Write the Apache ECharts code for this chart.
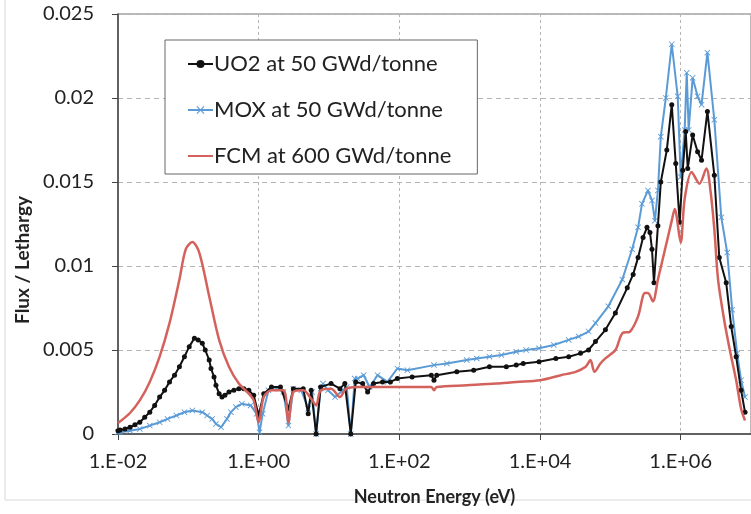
<!DOCTYPE html>
<html>
<head>
<meta charset="utf-8">
<script src="https://cdn.jsdelivr.net/npm/echarts@6/dist/echarts.min.js"></script>
<style>
  html, body { margin: 0; padding: 0; background: #fff; }
  #chart { width: 751px; height: 514px; }
</style>
</head>
<body>
<div id="chart"></div>
<script>
// Neutron energy (eV) and flux per lethargy
const uo2E = [0.01, 0.0107, 0.0126, 0.0148, 0.0174, 0.0204, 0.024, 0.0283, 0.0332, 0.0391, 0.046, 0.054, 0.0636, 0.0747, 0.088, 0.103, 0.122, 0.138, 0.158, 0.174, 0.198, 0.21, 0.232, 0.247, 0.274, 0.301, 0.331, 0.378, 0.444, 0.523, 0.615, 0.724, 0.85, 1.0, 1.18, 1.52, 2.04, 2.65, 3.11, 4.3, 5.06, 5.58, 6.56, 7.6, 10.7, 14.3, 16.8, 20.4, 24.0, 30.1, 35.4, 43.0, 57.7, 74.7, 93.7, 152, 285, 311, 340, 656, 1140, 1910, 3320, 4590, 5770, 9680, 16800, 25600, 37700, 49000, 61500, 85100, 118000, 174000, 211000, 248000, 292000, 332000, 366000, 391000, 417000, 475000, 522000, 635000, 747000, 851000, 968000, 1.07e6, 1.18e6, 1.26e6, 1.48e6, 1.74e6, 1.98e6, 2.4e6, 3.01e6, 3.54e6, 4.44e6, 5.23e6, 6.15e6, 7.23e6, 8.22e6];
const uo2Flux = [0.0002, 0.00024, 0.0003, 0.0004, 0.00055, 0.0007, 0.001, 0.0013, 0.0017, 0.0022, 0.0026, 0.0031, 0.0035, 0.004, 0.0046, 0.0052, 0.0057, 0.0056, 0.0054, 0.005, 0.0044, 0.0039, 0.0034, 0.0029, 0.0024, 0.0022, 0.0023, 0.0025, 0.0026, 0.0027, 0.0027, 0.0026, 0.0023, 0.0011, 0.0024, 0.0028, 0.0028, 0.0015, 0.0027, 0.0027, 0.0012, 0.0026, 0.0, 0.0028, 0.003, 0.0027, 0.003, 0.0, 0.0031, 0.003, 0.0025, 0.003, 0.0031, 0.0031, 0.0033, 0.0034, 0.0035, 0.0032, 0.0035, 0.0037, 0.0038, 0.004, 0.004, 0.0041, 0.0042, 0.0043, 0.0045, 0.0046, 0.0048, 0.005, 0.0055, 0.0062, 0.0072, 0.0087, 0.0095, 0.0105, 0.0117, 0.0123, 0.012, 0.011, 0.009, 0.0124, 0.015, 0.0169, 0.0196, 0.0161, 0.0126, 0.0157, 0.018, 0.0158, 0.0178, 0.0168, 0.0163, 0.0192, 0.0154, 0.0105, 0.009, 0.0064, 0.0046, 0.0026, 0.0013];

const moxE = [0.01, 0.0107, 0.0148, 0.0204, 0.0283, 0.0391, 0.0506, 0.0678, 0.088, 0.114, 0.158, 0.185, 0.218, 0.247, 0.292, 0.354, 0.403, 0.474, 0.576, 0.771, 0.937, 1.03, 1.14, 1.38, 1.91, 2.25, 2.65, 3.11, 4.04, 5.06, 5.77, 6.56, 7.6, 8.23, 9.68, 12.2, 15.8, 17.9, 20.4, 23.2, 25.6, 31.1, 37.8, 49.0, 67.8, 93.7, 130, 311, 474, 908, 1260, 1910, 2830, 4590, 6350, 9680, 15700, 25600, 35400, 49000, 61500, 93700, 148000, 204000, 248000, 282000, 343000, 391000, 430000, 475000, 522000, 615000, 747000, 908000, 1.0e6, 1.14e6, 1.22e6, 1.3e6, 1.48e6, 1.74e6, 1.98e6, 2.4e6, 3.01e6, 3.78e6, 4.59e6, 5.4e6, 6.35e6, 7.23e6, 8.22e6];
const moxFlux = [0.0001, 0.0001, 0.0002, 0.0003, 0.0005, 0.0007, 0.0009, 0.0011, 0.0013, 0.0014, 0.0013, 0.0011, 0.0009, 0.0006, 0.0004, 0.0009, 0.0013, 0.0016, 0.0018, 0.0017, 0.0012, 0.0001, 0.0012, 0.0026, 0.0027, 0.0025, 0.0005, 0.0027, 0.0026, 0.0015, 0.0025, 0.0, 0.0027, 0.003, 0.0026, 0.0022, 0.0026, 0.0028, 0.0, 0.0033, 0.0033, 0.0035, 0.0028, 0.0035, 0.0031, 0.0039, 0.0038, 0.0041, 0.0042, 0.0044, 0.0045, 0.0046, 0.0047, 0.0049, 0.005, 0.0051, 0.0053, 0.0056, 0.0058, 0.0061, 0.0066, 0.0076, 0.0092, 0.011, 0.0123, 0.0137, 0.0145, 0.0139, 0.0127, 0.0145, 0.0177, 0.02, 0.0232, 0.0201, 0.0153, 0.0181, 0.0215, 0.0181, 0.0212, 0.0201, 0.0196, 0.0227, 0.0187, 0.0129, 0.0108, 0.0074, 0.0048, 0.0032, 0.0022];

const fcmE = [0.01, 0.0148, 0.0204, 0.0283, 0.0391, 0.054, 0.0747, 0.092, 0.114, 0.143, 0.198, 0.274, 0.378, 0.523, 0.724, 0.85, 1.0, 1.18, 1.52, 2.25, 2.65, 3.11, 4.3, 5.58, 6.56, 7.6, 10.7, 14.3, 17.5, 25.6, 49.0, 93.7, 285, 311, 340, 908, 2400, 4590, 10000, 19800, 32100, 44500, 52200, 59500, 72300, 85100, 118000, 148000, 191000, 248000, 310000, 343000, 403000, 475000, 600000, 747000, 823000, 1.0e6, 1.14e6, 1.43e6, 1.85e6, 2.32e6, 2.65e6, 3.01e6, 3.4e6, 4.15e6, 5.0e6, 6.15e6, 7.23e6, 8.22e6];
const fcmFlux = [0.00065, 0.00125, 0.002, 0.0031, 0.0046, 0.0066, 0.0092, 0.011, 0.01143, 0.0108, 0.0082, 0.0056, 0.004, 0.003, 0.0024, 0.002, 0.0007, 0.0022, 0.0026, 0.0026, 0.0007, 0.0025, 0.0026, 0.0021, 0.0017, 0.0026, 0.0027, 0.0022, 0.0027, 0.0028, 0.0028, 0.0028, 0.0028, 0.0026, 0.0028, 0.0029, 0.003, 0.0031, 0.0032, 0.0035, 0.0037, 0.004, 0.0044, 0.0037, 0.0042, 0.0045, 0.005, 0.006, 0.0061, 0.007, 0.0084, 0.0084, 0.0079, 0.0092, 0.011, 0.0127, 0.0134, 0.0114, 0.014, 0.0156, 0.0149, 0.0158, 0.0145, 0.0122, 0.0092, 0.0068, 0.005, 0.0032, 0.0015, 0.0008];

const seriesNames = ["UO2 at 50 GWd/tonne", "MOX at 50 GWd/tonne", "FCM at 600 GWd/tonne"];
const yTicks = [0, 0.005, 0.01, 0.015, 0.02, 0.025];

const BLUE = "#5b9bd5";
const RED  = "#d4625c";
const FONT = "Lato";
const crossIcon = "path://M0,1L1,0L5,4L9,0L10,1L6,5L10,9L9,10L5,6L1,10L0,9L4,5Z";

const zip = (xs, ys) => xs.map((x, i) => [x, ys[i]]);

const expLabel = v => {
  const e = Math.round(Math.log10(v));
  const a = Math.abs(e);
  return "1.E" + (e < 0 ? "-" : "+") + (a < 10 ? "0" + a : a);
};

const chart = echarts.init(document.getElementById("chart"), null, { renderer: "canvas" });

chart.setOption({
  backgroundColor: "#fff",
  animation: false,
  textStyle: { fontFamily: FONT },
  graphic: [{
    type: "rect", silent: true, z: -10,
    shape: { x: 5, y: -5, width: 800, height: 505 },
    style: { fill: null, stroke: "#d8d8d8", lineWidth: 1 },
  }],
  grid: { left: 118, right: -6, top: 14, bottom: 80, show: true, borderColor: "#777", borderWidth: 1 },
  legend: {
    data: [
      seriesNames[0],
      seriesNames[1],
      { name: seriesNames[2], itemStyle: { color: "rgba(0,0,0,0)", borderWidth: 0 } },
    ],
    orient: "vertical",
    left: 165, top: 40,
    padding: [13, 26, 7, 22],
    itemGap: 24,
    itemWidth: 25, itemHeight: 10,
    borderColor: "#666", borderWidth: 1,
    backgroundColor: "#fff",
    textStyle: { fontFamily: FONT, fontSize: 22, lineHeight: 20, color: "#222", padding: [0, 0, 0, -4] },
  },
  xAxis: {
    type: "log",
    logBase: 10,
    min: 0.01, max: 1e7,
    interval: 2,
    name: "Neutron Energy (eV)",
    nameLocation: "middle",
    nameGap: 54,
    nameTextStyle: { fontFamily: FONT, fontWeight: "bold", fontSize: 18, color: "#222" },
    axisLine: { onZero: false, lineStyle: { color: "#444", width: 1.5 } },
    axisTick: { show: true, inside: false, length: 6, lineStyle: { color: "#444" } },
    axisLabel: { fontFamily: FONT, fontSize: 20, color: "#222", margin: 18, formatter: expLabel, showMaxLabel: false },
    splitLine: { show: true, lineStyle: { color: "#b5b5b5", type: [3, 3], width: 1 } },
    minorTick: { show: false },
  },
  yAxis: {
    type: "value",
    min: yTicks[0], max: yTicks[yTicks.length - 1], interval: 0.005,
    name: "Flux / Lethargy",
    nameLocation: "middle",
    nameRotate: 90,
    nameGap: 84,
    nameTextStyle: { fontFamily: FONT, fontWeight: "bold", fontSize: 19, color: "#222", padding: [0, 72, 0, 0] },
    axisLine: { show: true, lineStyle: { color: "#444", width: 1.5 } },
    axisTick: { show: true, length: 6, lineStyle: { color: "#444" } },
    axisLabel: { fontFamily: FONT, fontSize: 20, color: "#222", margin: 24, formatter: v => String(v) },
    splitLine: { show: true, lineStyle: { color: "#b5b5b5", type: [5, 4], width: 1 } },
  },
  series: [
    {
      name: seriesNames[1], type: "line", data: zip(moxE, moxFlux), z: 2,
      symbol: crossIcon, symbolSize: 6, showSymbol: true,
      lineStyle: { color: BLUE, width: 2 }, itemStyle: { color: BLUE },
    },
    {
      name: seriesNames[0], type: "line", data: zip(uo2E, uo2Flux), z: 3,
      symbol: "circle", symbolSize: 5, showSymbol: true,
      lineStyle: { color: "#111", width: 2 }, itemStyle: { color: "#111" },
    },
    {
      name: seriesNames[2], type: "line", data: zip(fcmE, fcmFlux), z: 4,
      symbol: "none", smooth: 0.3,
      lineStyle: { color: RED, width: 2.5 }, itemStyle: { color: RED },
    },
  ],
});
</script>
</body>
</html>
